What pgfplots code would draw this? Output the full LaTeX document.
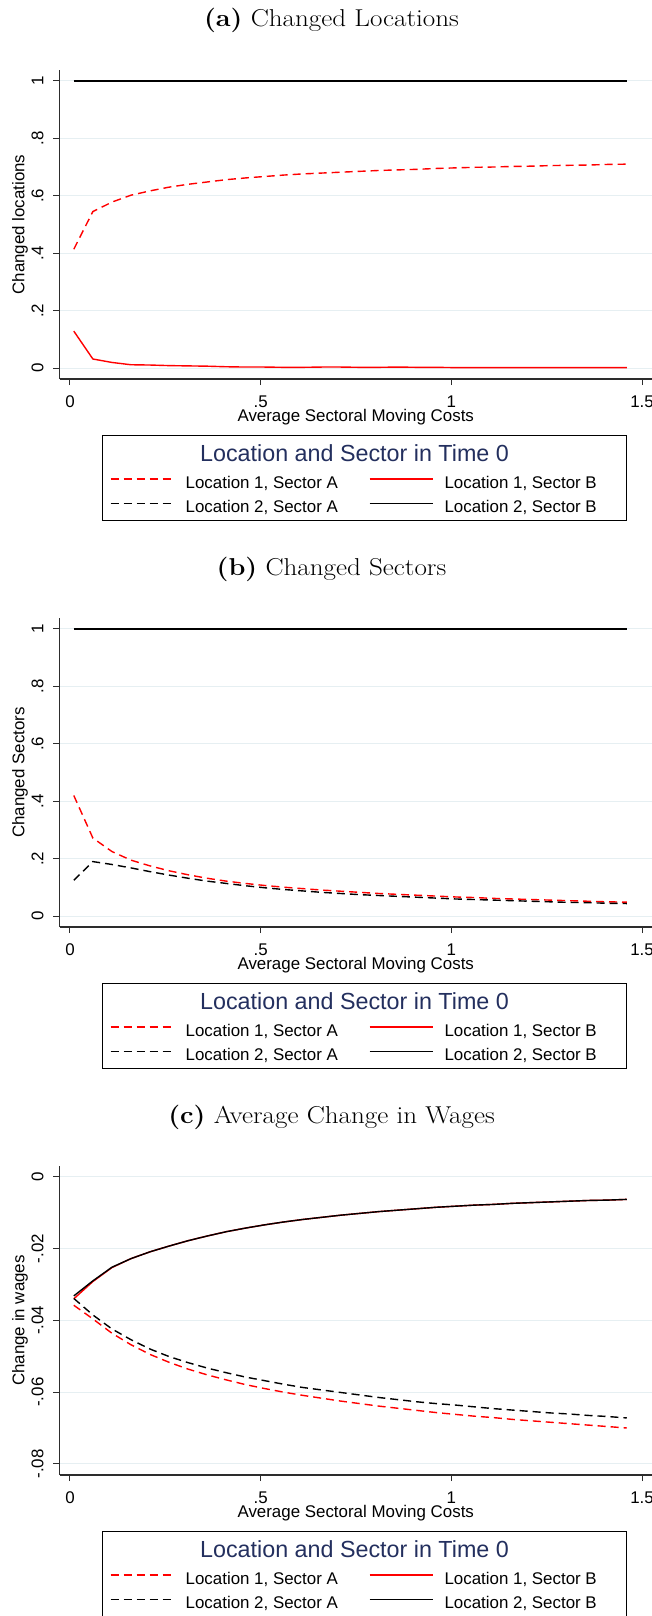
\documentclass[border=0pt]{standalone}
\usepackage{fontspec}
\usepackage{pgfplots}
\usepackage{pgfplotstable}
\pgfplotsset{compat=1.18}
\newfontfamily\arial{Liberation Sans}
\definecolor{gridc}{RGB}{230,239,242}
\definecolor{axc}{RGB}{45,45,45}
\definecolor{navy}{RGB}{35,47,94}

\pgfplotstableread{
x l1a l1b l2a l2b
0.01 0.414 0.129 1 1
0.06 0.545 0.032 1 1
0.11 0.578 0.020 1 1
0.16 0.602 0.012 1 1
0.21 0.617 0.011 1 1
0.26 0.630 0.009 1 1
0.31 0.640 0.008 1 1
0.36 0.648 0.007 1 1
0.41 0.656 0.005 1 1
0.46 0.662 0.004 1 1
0.51 0.667 0.004 1 1
0.56 0.672 0.003 1 1
0.61 0.676 0.003 1 1
0.66 0.679 0.004 1 1
0.71 0.682 0.004 1 1
0.76 0.685 0.003 1 1
0.81 0.688 0.003 1 1
0.86 0.690 0.004 1 1
0.91 0.692 0.003 1 1
0.96 0.695 0.003 1 1
1.01 0.697 0.002 1 1
1.06 0.699 0.002 1 1
1.11 0.700 0.002 1 1
1.16 0.702 0.002 1 1
1.21 0.703 0.002 1 1
1.26 0.705 0.002 1 1
1.31 0.706 0.002 1 1
1.36 0.707 0.002 1 1
1.41 0.709 0.002 1 1
1.46 0.710 0.002 1 1
}\tabA

\pgfplotstableread{
x l1a l1b l2a l2b
0.01 0.420 1 0.125 1
0.06 0.272 1 0.190 1
0.11 0.225 1 0.180 1
0.16 0.195 1 0.168 1
0.21 0.175 1 0.155 1
0.26 0.158 1 0.143 1
0.31 0.144 1 0.132 1
0.36 0.132 1 0.122 1
0.41 0.122 1 0.114 1
0.46 0.114 1 0.106 1
0.51 0.107 1 0.099 1
0.56 0.101 1 0.093 1
0.61 0.096 1 0.088 1
0.66 0.091 1 0.083 1
0.71 0.087 1 0.079 1
0.76 0.083 1 0.075 1
0.81 0.079 1 0.072 1
0.86 0.076 1 0.069 1
0.91 0.073 1 0.066 1
0.96 0.070 1 0.063 1
1.01 0.067 1 0.060 1
1.06 0.065 1 0.058 1
1.11 0.062 1 0.056 1
1.16 0.060 1 0.054 1
1.21 0.058 1 0.052 1
1.26 0.056 1 0.050 1
1.31 0.054 1 0.048 1
1.36 0.052 1 0.047 1
1.41 0.050 1 0.045 1
1.46 0.049 1 0.044 1
}\tabB

\pgfplotstableread{
x l1a l1b l2a l2b
0.01 -0.0358 -0.0340 -0.0339 -0.0332
0.06 -0.0396 -0.0292 -0.0385 -0.0290
0.11 -0.0436 -0.0253 -0.0424 -0.0252
0.16 -0.0468 -0.0228 -0.0454 -0.0228
0.21 -0.0495 -0.0209 -0.0480 -0.0209
0.26 -0.0517 -0.0193 -0.0501 -0.0193
0.31 -0.0536 -0.0178 -0.0518 -0.0178
0.36 -0.0552 -0.0165 -0.0533 -0.0165
0.41 -0.0566 -0.0153 -0.0546 -0.0153
0.46 -0.0579 -0.0143 -0.0558 -0.0143
0.51 -0.0590 -0.0134 -0.0568 -0.0134
0.56 -0.0600 -0.0126 -0.0578 -0.0126
0.61 -0.0609 -0.0119 -0.0587 -0.0119
0.66 -0.0617 -0.0113 -0.0594 -0.0113
0.71 -0.0625 -0.0107 -0.0601 -0.0107
0.76 -0.0632 -0.0102 -0.0608 -0.0102
0.81 -0.0639 -0.0097 -0.0615 -0.0097
0.86 -0.0645 -0.0093 -0.0621 -0.0093
0.91 -0.0651 -0.0089 -0.0627 -0.0089
0.96 -0.0657 -0.0085 -0.0632 -0.0085
1.01 -0.0662 -0.0082 -0.0636 -0.0082
1.06 -0.0667 -0.0079 -0.0641 -0.0079
1.11 -0.0671 -0.0077 -0.0646 -0.0077
1.16 -0.0676 -0.0074 -0.0650 -0.0074
1.21 -0.0680 -0.0072 -0.0654 -0.0072
1.26 -0.0684 -0.0070 -0.0658 -0.0070
1.31 -0.0688 -0.0068 -0.0661 -0.0068
1.36 -0.0692 -0.0066 -0.0665 -0.0066
1.41 -0.0696 -0.0065 -0.0668 -0.0065
1.46 -0.0700 -0.0063 -0.0672 -0.0063
}\tabC

\pgfplotsset{
  stata/.style={
    scale only axis, width=592.5pt, height=309pt,
    anchor=north west,
    xmin=-0.0275, xmax=1.5262,
    axis x line*=bottom, axis y line*=left,
    axis line style={axc, line width=1.2pt, -},
    xtick={0,0.5,1,1.5}, xticklabels={0,.5,1,1.5},
    scaled x ticks=false, scaled y ticks=false,
    tick align=outside, major tick length=6pt,
    tick style={axc, line width=1pt},
    ymajorgrids, grid style={gridc, line width=1pt},
    ticklabel style={font=\fontsize{16.9}{18}\selectfont\arial, inner sep=0pt},
    xticklabel style={anchor=center, yshift=-17pt},
    yticklabel style={xshift=-16pt, rotate=90, anchor=center},
    label style={font=\fontsize{16.9}{18}\selectfont\arial, inner sep=0pt},
    xlabel={Average Sectoral Moving Costs},
    x label style={at={(axis description cs:0.5,0)}, anchor=base, yshift=-42.7pt},
    y label style={at={(axis description cs:-0.0667,0.5)}, anchor=center},
    legend columns=2,
    legend cell align=left,
    legend image code/.code={\draw[#1] (0pt,4.5pt) -- (63pt,4.5pt);},
    legend style={draw=none, fill=none, at={(0.0852,-0.3123)}, anchor=north west,
      inner sep=0pt, outer sep=0pt, column sep=0pt, row sep=8.2pt,
      font=\fontsize{16.9}{18}\selectfont\arial,
      nodes={inner sep=0pt, text height=12.5pt, text depth=3.5pt},
      /tikz/every odd column/.append style={column sep=11.3pt},
      /tikz/every even column/.append style={column sep=31pt}},
    every axis plot/.append style={line width=1.4pt},
  },
  l1a/.style={red, dash pattern=on 8pt off 5pt},
  l1b/.style={red},
  l2a/.style={black, dash pattern=on 8pt off 5pt},
  l2b/.style={black},
}
\newcommand{\ptitle}[1]{\scalebox{1.11}[1]{\fontsize{24.4}{28}\selectfont #1}}

\begin{document}
\begin{tikzpicture}
\useasboundingbox (0,0) rectangle (652pt,-1616pt);

% ---------- panel (a)
\node[anchor=base] at (331.5pt,-27pt) {\ptitle{\textbf{(a)} Changed Locations}};
\begin{axis}[stata, at={(59.5pt,-70pt)},
  ymin=-0.0376, ymax=1.0376,
  ytick={0,0.2,0.4,0.6,0.8,1}, yticklabels={0,.2,.4,.6,.8,1},
  ylabel={Changed locations}]
\addplot[l1a] table[x=x,y=l1a] {\tabA}; \addlegendentry{Location 1, Sector A}
\addplot[l1b] table[x=x,y=l1b] {\tabA}; \addlegendentry{Location 1, Sector B}
\addplot[l2a] table[x=x,y=l2a] {\tabA}; \addlegendentry{Location 2, Sector A}
\addplot[l2b] table[x=x,y=l2b] {\tabA}; \addlegendentry{Location 2, Sector B}
\end{axis}
\draw[black, line width=1.1pt] (102.3pt,-435.7pt) rectangle (626.6pt,-520.7pt);
\node[anchor=base, navy, font=\fontsize{23.3}{26}\selectfont\arial] at (354.5pt,-461.7pt) {Location and Sector in Time 0};

% ---------- panel (b)
\node[anchor=base] at (331.5pt,-575pt) {\ptitle{\textbf{(b)} Changed Sectors}};
\begin{axis}[stata, at={(59.5pt,-618pt)},
  ymin=-0.0376, ymax=1.0376,
  ytick={0,0.2,0.4,0.6,0.8,1}, yticklabels={0,.2,.4,.6,.8,1},
  ylabel={Changed Sectors}]
\addplot[l1a] table[x=x,y=l1a] {\tabB}; \addlegendentry{Location 1, Sector A}
\addplot[l1b] table[x=x,y=l1b] {\tabB}; \addlegendentry{Location 1, Sector B}
\addplot[l2a] table[x=x,y=l2a] {\tabB}; \addlegendentry{Location 2, Sector A}
\addplot[l2b] table[x=x,y=l2b] {\tabB}; \addlegendentry{Location 2, Sector B}
\end{axis}
\draw[black, line width=1.1pt] (102.3pt,-983.7pt) rectangle (626.6pt,-1068.7pt);
\node[anchor=base, navy, font=\fontsize{23.3}{26}\selectfont\arial] at (354.5pt,-1009.7pt) {Location and Sector in Time 0};

% ---------- panel (c)
\node[anchor=base] at (331.5pt,-1123pt) {\ptitle{\textbf{(c)} Average Change in Wages}};
\begin{axis}[stata, at={(59.5pt,-1166pt)},
  ymin=-0.0831, ymax=0.0030,
  ytick={-0.08,-0.06,-0.04,-0.02,0}, yticklabels={-.08,-.06,-.04,-.02,0},
  ylabel={Change in wages}]
\addplot[l1a] table[x=x,y=l1a] {\tabC}; \addlegendentry{Location 1, Sector A}
\addplot[l1b] table[x=x,y=l1b] {\tabC}; \addlegendentry{Location 1, Sector B}
\addplot[l2a] table[x=x,y=l2a] {\tabC}; \addlegendentry{Location 2, Sector A}
\addplot[l2b] table[x=x,y=l2b] {\tabC}; \addlegendentry{Location 2, Sector B}
\end{axis}
\draw[black, line width=1.1pt] (102.3pt,-1531.7pt) rectangle (626.6pt,-1616.7pt);
\node[anchor=base, navy, font=\fontsize{23.3}{26}\selectfont\arial] at (354.5pt,-1557.7pt) {Location and Sector in Time 0};
\end{tikzpicture}
\end{document}
